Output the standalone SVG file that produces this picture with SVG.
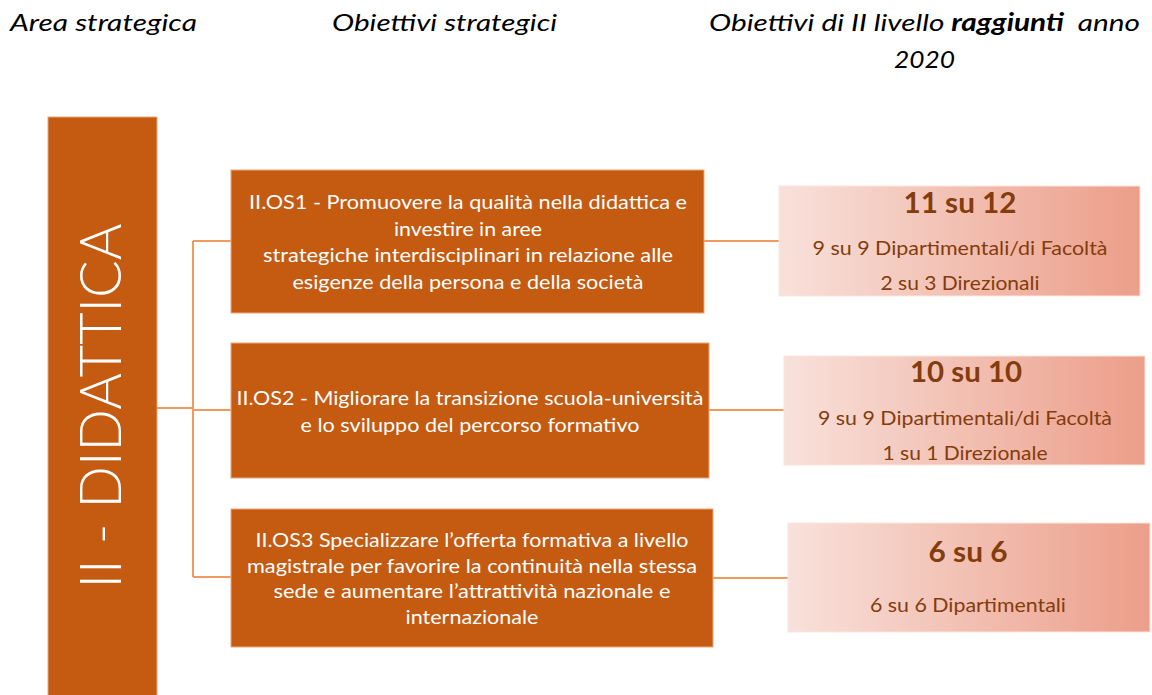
<svg xmlns="http://www.w3.org/2000/svg" width="1152" height="695" viewBox="0 0 1152 695">
<defs>
<linearGradient id="g" x1="0" y1="0" x2="1" y2="0">
<stop offset="0" stop-color="#F8E1DB"/>
<stop offset="1" stop-color="#EC9E89"/>
</linearGradient>
<style>
.hdr{font-family:Lato,"Liberation Sans",sans-serif;font-style:italic;font-size:24px;fill:#000}
.ob{fill:#C55A11;stroke:#F0A678;stroke-width:1}
.ot{font-family:Lato,"Liberation Sans",sans-serif;font-size:19px;fill:#fff;text-anchor:middle}
.rb{fill:url(#g);stroke:#FBE5DD;stroke-width:1}
.rt{font-family:Lato,"Liberation Sans",sans-serif;font-size:19px;fill:#843C0C;text-anchor:middle}
.rh{font-family:Lato,"Liberation Sans",sans-serif;font-size:29px;font-weight:bold;fill:#843C0C;text-anchor:middle}
.cn{stroke:#F19A5F;stroke-width:2;fill:none}
</style>
</defs>
<rect width="1152" height="695" fill="#fff"/>
<g id="headers">
<text class="hdr" x="10" y="31" textLength="187" lengthAdjust="spacingAndGlyphs">Area strategica</text>
<text class="hdr" x="332" y="31" textLength="225" lengthAdjust="spacingAndGlyphs">Obiettivi strategici</text>
<text class="hdr" x="709" y="31" textLength="431" lengthAdjust="spacingAndGlyphs">Obiettivi di II livello <tspan font-weight="bold">raggiunti</tspan>&#160; anno</text>
<text class="hdr" x="894" y="68" textLength="61" lengthAdjust="spacingAndGlyphs">2020</text>
</g>
<g id="connectors">
<path class="cn" d="M157 408H193M193 241V577M193 241H231M193 410H231M193 577H231"/>
<path class="cn" d="M704 241H779M709 410H784M713 578H788"/>
</g>
<g id="area">
<rect x="48" y="117" width="109" height="590" fill="#C55A11" stroke="#F0A678" stroke-width="1"/>
<text transform="translate(121,406) rotate(-90)" font-family="Lato,'Liberation Sans',sans-serif" font-weight="300" font-size="58" fill="#fff" text-anchor="middle" textLength="365" lengthAdjust="spacingAndGlyphs">II - DIDATTICA</text>
</g>
<g id="os1">
<rect class="ob" x="231" y="170" width="473" height="143"/>
<text class="ot" x="468" y="209" textLength="438" lengthAdjust="spacingAndGlyphs">II.OS1 - Promuovere la qualità nella didattica e</text>
<text class="ot" x="468" y="236" textLength="148" lengthAdjust="spacingAndGlyphs">investire in aree</text>
<text class="ot" x="468" y="262" textLength="410" lengthAdjust="spacingAndGlyphs">strategiche interdisciplinari in relazione alle</text>
<text class="ot" x="468" y="289" textLength="351" lengthAdjust="spacingAndGlyphs">esigenze della persona e della società</text>
</g>
<g id="os2">
<rect class="ob" x="231" y="343" width="478" height="135"/>
<text class="ot" x="470" y="405" textLength="467" lengthAdjust="spacingAndGlyphs">II.OS2 - Migliorare la transizione scuola-università</text>
<text class="ot" x="470" y="432" textLength="339" lengthAdjust="spacingAndGlyphs">e lo sviluppo del percorso formativo</text>
</g>
<g id="os3">
<rect class="ob" x="231" y="509" width="482" height="138"/>
<text class="ot" x="472" y="547" textLength="433" lengthAdjust="spacingAndGlyphs">II.OS3 Specializzare l’offerta formativa a livello</text>
<text class="ot" x="472" y="573" textLength="450" lengthAdjust="spacingAndGlyphs">magistrale per favorire la continuità nella stessa</text>
<text class="ot" x="472" y="598" textLength="397" lengthAdjust="spacingAndGlyphs">sede e aumentare l’attrattività nazionale e</text>
<text class="ot" x="472" y="624" textLength="133" lengthAdjust="spacingAndGlyphs">internazionale</text>
</g>
<g id="r1">
<rect class="rb" x="779" y="186" width="361" height="110"/>
<text class="rh" x="960" y="213" textLength="113" lengthAdjust="spacingAndGlyphs">11 su 12</text>
<text class="rt" x="960" y="255" textLength="295" lengthAdjust="spacingAndGlyphs">9 su 9 Dipartimentali/di Facoltà</text>
<text class="rt" x="960" y="290" textLength="159" lengthAdjust="spacingAndGlyphs">2 su 3 Direzionali</text>
</g>
<g id="r2">
<rect class="rb" x="784" y="356" width="361" height="109"/>
<text class="rh" x="966" y="382" textLength="112" lengthAdjust="spacingAndGlyphs">10 su 10</text>
<text class="rt" x="965" y="425" textLength="294" lengthAdjust="spacingAndGlyphs">9 su 9 Dipartimentali/di Facoltà</text>
<text class="rt" x="965" y="460" textLength="165" lengthAdjust="spacingAndGlyphs">1 su 1 Direzionale</text>
</g>
<g id="r3">
<rect class="rb" x="788" y="523" width="362" height="109"/>
<text class="rh" x="968" y="562" textLength="79" lengthAdjust="spacingAndGlyphs">6 su 6</text>
<text class="rt" x="968" y="612" textLength="196" lengthAdjust="spacingAndGlyphs">6 su 6 Dipartimentali</text>
</g>
</svg>
